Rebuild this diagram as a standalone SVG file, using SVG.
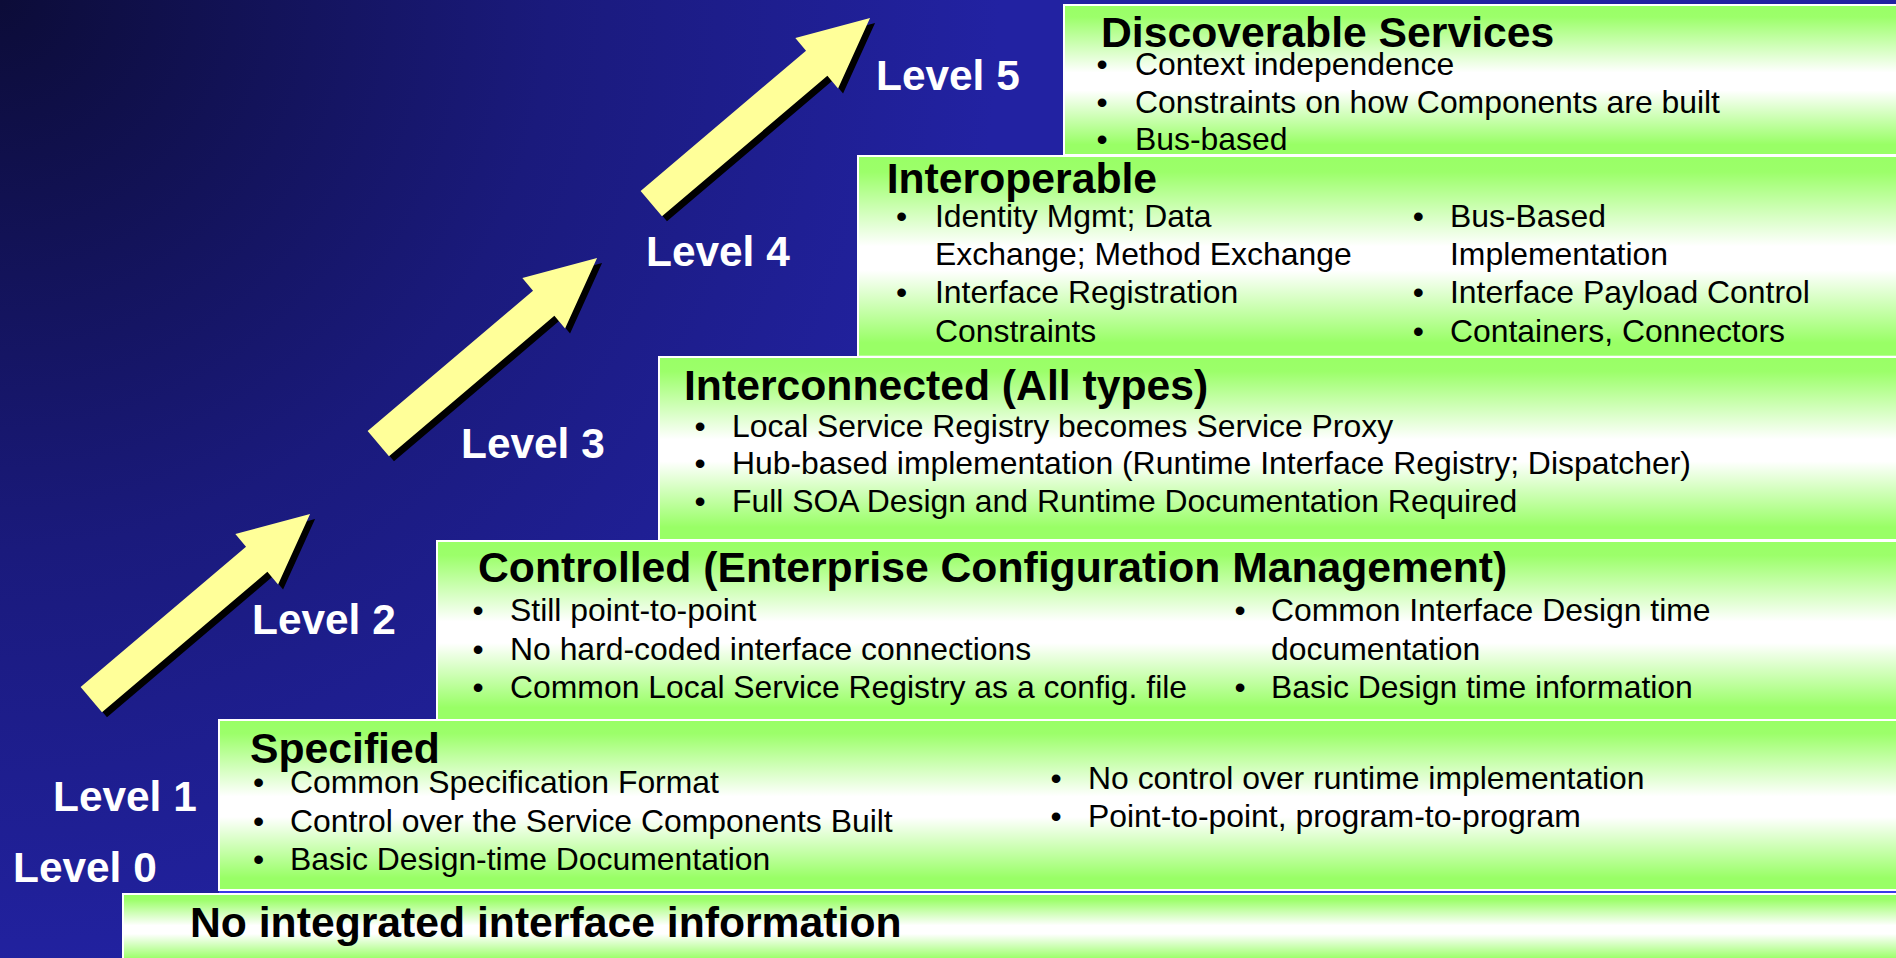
<svg xmlns="http://www.w3.org/2000/svg" width="1896" height="958" viewBox="0 0 1896 958">
<defs>
<radialGradient id="bg" gradientUnits="userSpaceOnUse" cx="0" cy="0" r="1000">
<stop offset="0" stop-color="#0c0c38"/>
<stop offset="0.55" stop-color="#1a1a7c"/>
<stop offset="1" stop-color="#2222a2"/>
</radialGradient>
<linearGradient id="box" x1="0" y1="0" x2="0" y2="1">
<stop offset="0" stop-color="#99ff66"/>
<stop offset="0.08" stop-color="#9cff6a"/>
<stop offset="0.45" stop-color="#ffffff"/>
<stop offset="0.57" stop-color="#ffffff"/>
<stop offset="0.93" stop-color="#99ff66"/>
<stop offset="1" stop-color="#99ff66"/>
</linearGradient>
<path id="arrow" d="M0,-16.5 L217,-16.5 L217,-33 L287,0 L217,33 L217,16.5 L0,16.5 Z"/>
<style>
text{font-family:"Liberation Sans",Arial,sans-serif;fill:#000}
.box{fill:url(#box);stroke:#ffffff;stroke-width:2}
.title{font-weight:bold;font-size:42.7px}
.b{font-size:31.9px}
.lvl{font-weight:bold;font-size:42.4px;fill:#ffffff}
.arr{fill:#ffff99}
.sh{fill:#000000}
</style>
</defs>
<rect x="0" y="0" width="1896" height="958" fill="url(#bg)"/>

<g id="level0">
<rect class="box" x="123" y="894" width="1790" height="70"/>
<text class="title" x="190" y="937">No integrated interface information</text>
<text class="lvl" x="13" y="882">Level 0</text>
</g>

<line x1="219" y1="892" x2="1896" y2="892" stroke="#3a3ae6" stroke-width="2"/>

<g id="level1">
<rect class="box" x="219" y="720" width="1690" height="170"/>
<text class="title" x="250" y="763">Specified</text>
<text class="b" x="253" y="793.3">•</text><text class="b" x="290" y="793.3">Common Specification Format</text>
<text class="b" x="253" y="831.7">•</text><text class="b" x="290" y="831.7">Control over the Service Components Built</text>
<text class="b" x="253" y="870">•</text><text class="b" x="290" y="870">Basic Design-time Documentation</text>
<text class="b" x="1050.5" y="788.5">•</text><text class="b" x="1088" y="788.5">No control over runtime implementation</text>
<text class="b" x="1050.5" y="827">•</text><text class="b" x="1088" y="827">Point-to-point, program-to-program</text>
<text class="lvl" x="53" y="810.5">Level 1</text>
</g>

<g id="level2">
<rect class="box" x="437" y="541" width="1470" height="179"/>
<text class="title" x="478" y="581.7">Controlled (Enterprise Configuration Management)</text>
<text class="b" x="472.5" y="621">•</text><text class="b" x="510" y="621">Still point-to-point</text>
<text class="b" x="472.5" y="659.5">•</text><text class="b" x="510" y="659.5">No hard-coded interface connections</text>
<text class="b" x="472.5" y="698">•</text><text class="b" x="510" y="698">Common Local Service Registry as a config. file</text>
<text class="b" x="1234.5" y="621">•</text><text class="b" x="1271" y="621">Common Interface Design time</text>
<text class="b" x="1271" y="659.5">documentation</text>
<text class="b" x="1234.5" y="698">•</text><text class="b" x="1271" y="698">Basic Design time information</text>
<text class="lvl" x="252" y="634">Level 2</text>
</g>

<g id="level3">
<rect class="box" x="659" y="357" width="1250" height="183"/>
<text class="title" x="684" y="400">Interconnected (All types)</text>
<text class="b" x="694.5" y="436.6">•</text><text class="b" x="732" y="436.6">Local Service Registry becomes Service Proxy</text>
<text class="b" x="694.5" y="474">•</text><text class="b" x="732" y="474">Hub-based implementation (Runtime Interface Registry; Dispatcher)</text>
<text class="b" x="694.5" y="511.6">•</text><text class="b" x="732" y="511.6">Full SOA Design and Runtime Documentation Required</text>
<text class="lvl" x="461" y="458.3">Level 3</text>
</g>

<g id="level4">
<rect class="box" x="858" y="156" width="1050" height="200.7"/>
<text class="title" x="886.7" y="193.3">Interoperable</text>
<text class="b" x="896" y="226.7">•</text><text class="b" x="935" y="226.7">Identity Mgmt; Data</text>
<text class="b" x="935" y="265">Exchange; Method Exchange</text>
<text class="b" x="896" y="303.3">•</text><text class="b" x="935" y="303.3">Interface Registration</text>
<text class="b" x="935" y="341.7">Constraints</text>
<text class="b" x="1412.8" y="226.7">•</text><text class="b" x="1450" y="226.7">Bus-Based</text>
<text class="b" x="1450" y="265">Implementation</text>
<text class="b" x="1412.8" y="303.3">•</text><text class="b" x="1450" y="303.3">Interface Payload Control</text>
<text class="b" x="1412.8" y="341.7">•</text><text class="b" x="1450" y="341.7">Containers, Connectors</text>
<text class="lvl" x="646" y="266">Level 4</text>
</g>

<g id="level5">
<rect class="box" x="1064" y="5" width="850" height="150"/>
<text class="title" x="1101" y="46.7">Discoverable Services</text>
<text class="b" x="1096.5" y="75">•</text><text class="b" x="1135" y="75">Context independence</text>
<text class="b" x="1096.5" y="112.7">•</text><text class="b" x="1135" y="112.7">Constraints on how Components are built</text>
<text class="b" x="1096.5" y="150.4">•</text><text class="b" x="1135" y="150.4">Bus-based</text>
<text class="lvl" x="876" y="90">Level 5</text>
</g>

<g id="connectors">
<g transform="translate(91.3,699.7) rotate(-40.34)">
<use href="#arrow" class="sh" transform="rotate(40.34) translate(5,5) rotate(-40.34)"/>
<use href="#arrow" class="arr"/>
</g>
<g transform="translate(378.3,443.7) rotate(-40.34)">
<use href="#arrow" class="sh" transform="rotate(40.34) translate(5,5) rotate(-40.34)"/>
<use href="#arrow" class="arr"/>
</g>
<g transform="translate(651.3,203.7) rotate(-40.34)">
<use href="#arrow" class="sh" transform="rotate(40.34) translate(5,5) rotate(-40.34)"/>
<use href="#arrow" class="arr"/>
</g>
</g>
</svg>
